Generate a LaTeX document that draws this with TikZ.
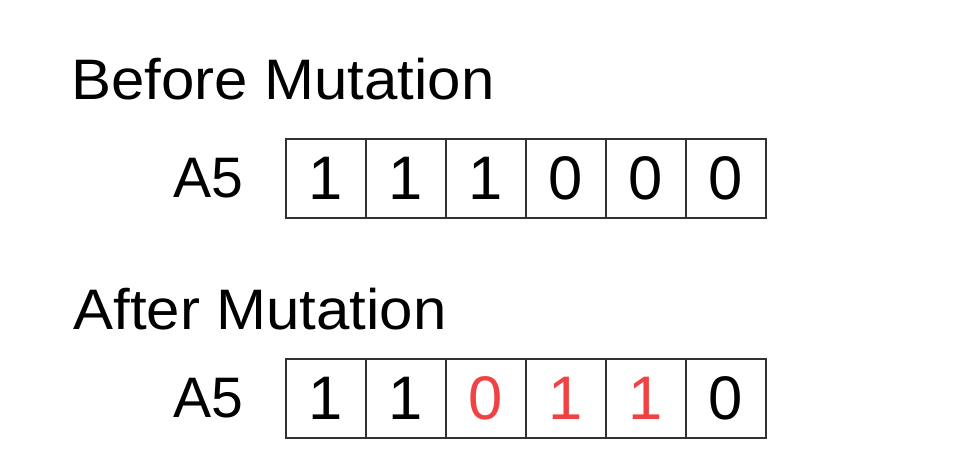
\documentclass[tikz,border=0pt]{standalone}
\usepackage{fontspec}
\setmainfont{Liberation Sans}
\newfontfamily\titlefont[FakeStretch=1.05]{Liberation Sans}
\usepackage{xcolor}
\usetikzlibrary{positioning}
\definecolor{flipred}{RGB}{240,66,66}
\definecolor{gridline}{RGB}{50,50,50}

\begin{document}
\begin{tikzpicture}[cell/.style={draw=gridline, line width=0.8pt, outer sep=0pt, inner sep=0pt, minimum width=1.6cm, minimum height=1.58cm, font=\fontsize{35}{40}\selectfont}, title/.style={font=\titlefont\fontsize{32.5}{38}\selectfont, inner sep=0pt, anchor=base west}, chrom/.style={font=\fontsize{32.5}{38}\selectfont, inner sep=0pt}, flip/.style={text=flipred}]
    \useasboundingbox (0,0) rectangle (19.12,-9.28);

    \node[title] (before) at (1.42,-2.0) {Before Mutation};
    \node[cell] (b1) at (6.52,-3.57) {1};
    \node[cell, right=0pt of b1] (b2) {1};
    \node[cell, right=0pt of b2] (b3) {1};
    \node[cell, right=0pt of b3] (b4) {0};
    \node[cell, right=0pt of b4] (b5) {0};
    \node[cell, right=0pt of b5] (b6) {0};
    \node[chrom, left=0.84cm of b1] (A5b) {A5};

    \node[title] (after) at (1.46,-6.6) {After Mutation};
    \node[cell] (a1) at (6.52,-7.97) {1};
    \node[cell, right=0pt of a1] (a2) {1};
    \node[cell, flip, right=0pt of a2] (a3) {0};
    \node[cell, flip, right=0pt of a3] (a4) {1};
    \node[cell, flip, right=0pt of a4] (a5) {1};
    \node[cell, right=0pt of a5] (a6) {0};
    \node[chrom, left=0.84cm of a1] (A5a) {A5};

\end{tikzpicture}
\end{document}
